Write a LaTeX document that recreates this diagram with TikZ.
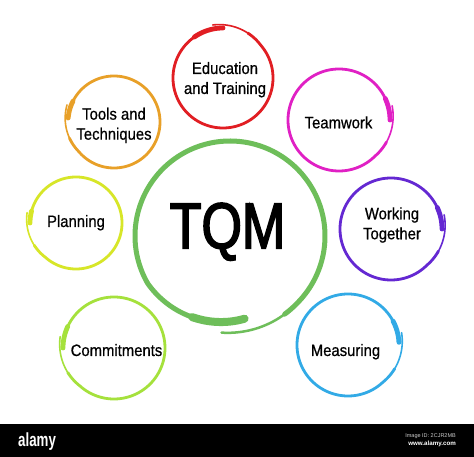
\documentclass[tikz,border=0pt]{standalone}
\usepackage{fontspec}
\setmainfont{Liberation Sans}
\newfontfamily\lblfont[FakeStretch=0.9,FakeBold=0.6]{Liberation Sans}
\newfontfamily\tqmfont[FakeStretch=0.8,FakeBold=2.4]{Liberation Sans}
\newfontfamily\logofont[FakeStretch=0.7]{Liberation Sans Bold}
\newfontfamily\smallbold{Liberation Sans Bold}
\definecolor{cRed}{HTML}{E11E23}
\definecolor{cOrange}{HTML}{E8A028}
\definecolor{cMagenta}{HTML}{E020C4}
\definecolor{cPurple}{HTML}{6428D2}
\definecolor{cYellow}{HTML}{D7E628}
\definecolor{cLime}{HTML}{A5E13C}
\definecolor{cBlue}{HTML}{32AAE6}
\definecolor{cGreen}{HTML}{6EBE5A}
\tikzset{
  lbl/.style={font=\lblfont\fontsize{16.5}{20}\selectfont, align=center, inner sep=0pt, text=black},
  tqm/.style={font=\tqmfont\fontsize{65}{70}\selectfont, inner sep=0pt, text=black},
  brush/.style={line cap=round, line join=round},
}
\begin{document}
\begin{tikzpicture}[x=1pt,y=1pt]
\useasboundingbox (0,0) rectangle (474,457);
\fill[white] (0,0) rectangle (474,457);
% main TQM ring
\draw[cGreen, brush, line width=5pt] plot[domain=0:335, samples=200, smooth]
  ({230+(95-11*max(0,1-\x/70)+2*max(0,\x-325)/50)*cos(-80-\x)},
   {221+(95-11*max(0,1-\x/70)+2*max(0,\x-325)/50)*sin(-80-\x)});
\draw[cGreen, brush, line width=2.5pt] plot[domain=330:375, samples=40, smooth]
  ({230+(95-11*max(0,1-\x/70)+2*max(0,\x-325)/50)*cos(-80-\x)},
   {221+(95-11*max(0,1-\x/70)+2*max(0,\x-325)/50)*sin(-80-\x)});
\draw[cGreen, brush, line width=8pt] plot[domain=0:35, samples=30, smooth]
  ({230+(95-11*max(0,1-\x/70))*cos(-80-\x)},
   {221+(95-11*max(0,1-\x/70))*sin(-80-\x)});
% small rings
\foreach \cx/\cy/\R/\st/\dr/\T/\dab/\col in {
  223/379/51/90/1/371/35/cRed,
  114/335/47/175/-1/375/22/cOrange,
  339/337/52/0/1/375/25/cMagenta,
  391/228/52/0/1/375/25/cPurple,
  76/234/47/180/-1/372/15/cYellow,
  114/109/52/180/-1/372/25/cLime,
  348/112/52/3/1/370/25/cBlue}{
  \draw[\col, brush, line width=2.8pt] plot[domain=0:\T-40, samples=160, smooth]
    ({\cx+(\R-1+4*max(0,\x-\T+60)/60)*cos(\st+\dr*\x)},
     {\cy+(\R-1+4*max(0,\x-\T+60)/60)*sin(\st+\dr*\x)});
  \draw[\col, brush, line width=1.6pt] plot[domain=\T-45:\T, samples=40, smooth]
    ({\cx+(\R-1+4*max(0,\x-\T+60)/60)*cos(\st+\dr*\x)},
     {\cy+(\R-1+4*max(0,\x-\T+60)/60)*sin(\st+\dr*\x)});
  \draw[\col, brush, line width=4.8pt] plot[domain=0:\dab, samples=20, smooth]
    ({\cx+(\R-1)*cos(\st+\dr*\x)},{\cy+(\R-1)*sin(\st+\dr*\x)});
}
% labels
\node[tqm, anchor=base] (tqm) at (227.5,208.7) {TQM};
\node[lbl] (edu) at (225,377.3) {Education\\and Training};
\node[lbl] (tools) at (114,331.6) {Tools and\\Techniques};
\node[lbl, anchor=base] (team) at (338.5,328.7) {Teamwork};
\node[lbl] (work) at (392,232) {Working\\Together};
\node[lbl, anchor=base] (plan) at (76,230) {Planning};
\node[lbl, anchor=base] (comm) at (116.5,101) {Commitments};
\node[lbl, anchor=base] (meas) at (345.5,101) {Measuring};
% watermark bar
\fill[black] (0,0) rectangle (474,33);
\node[anchor=base west, inner sep=0pt, text=white, font=\logofont\fontsize{19}{20}\selectfont] (logo) at (18,10.3) {alamy};
\node[anchor=base east, inner sep=0pt, text=white!80!black, font=\fontsize{5.5}{6}\selectfont] (imgid) at (456,19.5) {Image ID: 2CJR2MB};
\node[anchor=base east, inner sep=0pt, text=white, font=\smallbold\fontsize{6.2}{7}\selectfont] (www) at (456,11) {www.alamy.com};
\end{tikzpicture}
\end{document}
